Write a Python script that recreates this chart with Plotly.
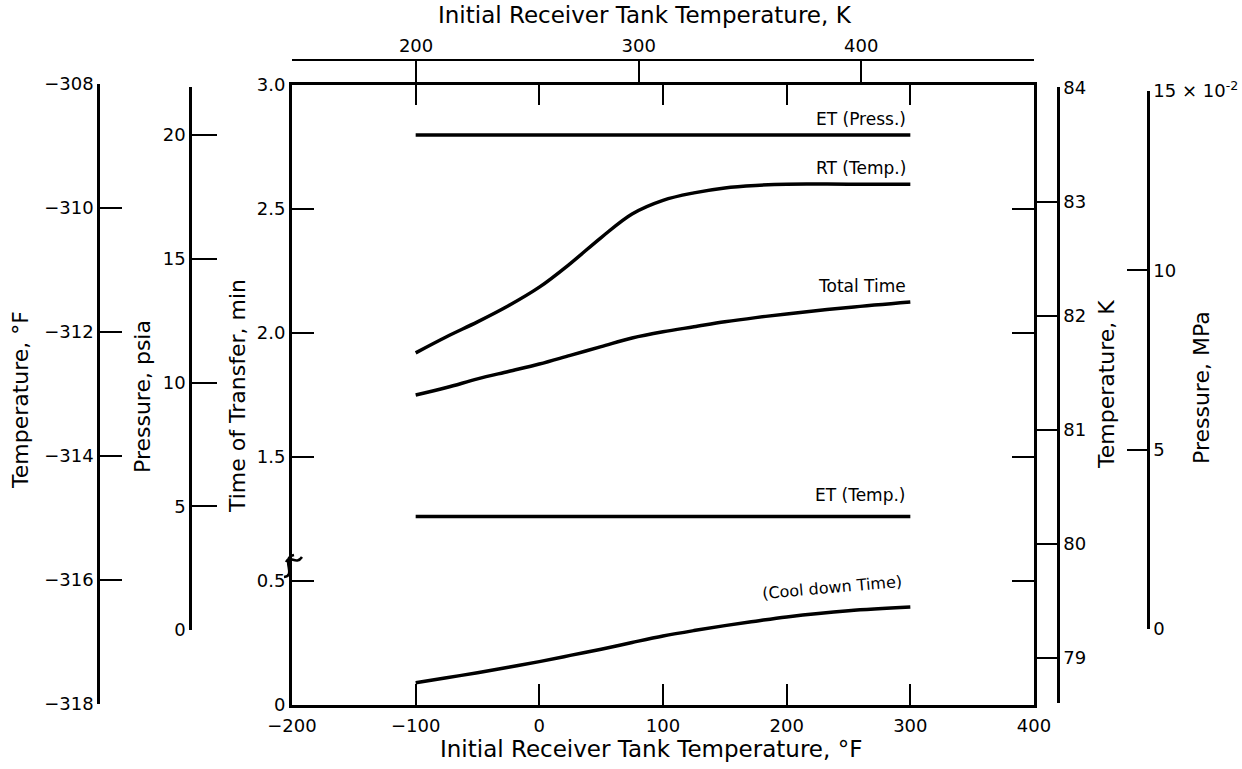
import plotly.graph_objects as go

# ---------------- data ----------------
temp_f = [-100, -75, -50, -25, 0, 25, 50, 75, 100, 125, 150, 175, 200, 250, 300]
rt_temp = [1.92, 1.985, 2.045, 2.11, 2.185, 2.28, 2.385, 2.48, 2.535, 2.565, 2.585, 2.595, 2.60, 2.60, 2.60]
total_time = [1.75, 1.78, 1.815, 1.845, 1.875, 1.91, 1.945, 1.98, 2.005, 2.025, 2.045, 2.062, 2.077, 2.103, 2.125]
cool_down = [0.09, 0.11, 0.13, 0.152, 0.175, 0.20, 0.225, 0.252, 0.278, 0.30, 0.32, 0.338, 0.355, 0.38, 0.395]
flat_x = [-100, 300]
et_temp = [1.26, 1.26]          # min
et_press = [20, 20]             # psia

x_ticks_f = [-200, -100, 0, 100, 200, 300, 400]
x_ticks_k = [200, 300, 400]
y_low_ticks = [0, 0.5]
y_up_ticks = [1.5, 2.0, 2.5, 3.0]
temp_f_ticks = [-318, -316, -314, -312, -310, -308]
psia_ticks = [0, 5, 10, 15, 20]
temp_k_ticks = [79, 80, 81, 82, 83, 84]
mpa_ticks = [0, 0.05, 0.10, 0.15]
mpa_labels = ["0", "5", "10", "15 × 10<sup>-2</sup>"]

# ---------------- layout helpers ----------------
W, H = 1242, 769
def px(x): return x / W
def py(y): return 1 - y / H

def f2k(f): return (f + 459.67) * 5.0 / 9.0

FONT = "DejaVu Sans, Liberation Sans, Arial, sans-serif"
TICKF = dict(family=FONT, size=18, color="black")

main_x = [px(292), px(1034)]
main_bot, main_top = 705, 85
brk_px = main_bot - (main_bot - main_top) * 0.6 / 2.5
low_dom = [py(main_bot), py(brk_px)]
up_dom = [py(brk_px), py(main_top)]

common = dict(showgrid=False, zeroline=False, showline=True, linecolor="black", automargin=False,
              ticks="inside", tickcolor="black", tickwidth=2, tickfont=TICKF)

fig = go.Figure()
LW = 3.5
fig.add_trace(go.Scatter(x=temp_f, y=rt_temp, mode="lines", line=dict(color="black", width=LW, shape="spline"),
                         xaxis="x", yaxis="y2", showlegend=False))
fig.add_trace(go.Scatter(x=temp_f, y=total_time, mode="lines", line=dict(color="black", width=LW, shape="spline"),
                         xaxis="x", yaxis="y2", showlegend=False))
fig.add_trace(go.Scatter(x=flat_x, y=et_temp, mode="lines", line=dict(color="black", width=LW),
                         xaxis="x", yaxis="y2", showlegend=False))
fig.add_trace(go.Scatter(x=temp_f, y=cool_down, mode="lines", line=dict(color="black", width=LW, shape="spline"),
                         xaxis="x", yaxis="y", showlegend=False))
fig.add_trace(go.Scatter(x=flat_x, y=et_press, mode="lines", line=dict(color="black", width=LW),
                         xaxis="x", yaxis="y4", showlegend=False))
# dummy traces so every auxiliary axis is drawn
for xa, ya in [("x", "y3"), ("x", "y5"), ("x", "y6"), ("x2", "y2"), ("x3", "y2")]:
    fig.add_trace(go.Scatter(x=[None], y=[None], xaxis=xa, yaxis=ya, showlegend=False, hoverinfo="skip"))

fig.update_layout(
    width=W, height=H, autosize=False, margin=dict(l=0, r=0, t=0, b=0, pad=0),
    paper_bgcolor="white", plot_bgcolor="rgba(0,0,0,0)", showlegend=False,
    font=dict(family=FONT, color="black"),
    xaxis=dict(domain=main_x, range=[-200, 400], anchor="y", tickvals=x_ticks_f, ticklen=21,
               linewidth=3, ticklabelstandoff=2, **common),
    xaxis2=dict(domain=main_x, range=[-200, 400], anchor="y2", side="top", tickvals=x_ticks_f[1:-1],
                ticklen=20, linewidth=3, showticklabels=False, **common),
    xaxis3=dict(domain=main_x, range=[f2k(-200), f2k(400)], anchor="free", position=py(60), side="top",
                tickvals=x_ticks_k, ticklen=22, linewidth=2, **common),
    yaxis=dict(domain=low_dom, range=[0, 0.6], anchor="x", tickvals=y_low_ticks, ticktext=["0", "0.5"],
               ticklen=22, linewidth=3, mirror="ticks", **common),
    yaxis2=dict(domain=up_dom, range=[1.1, 3.0], anchor="x", tickvals=y_up_ticks,
                ticktext=["1.5", "2.0", "2.5", "3.0"], ticklen=22, linewidth=3, mirror="ticks", **common),
    yaxis3=dict(domain=[py(704), py(84)], range=[-318, -308], anchor="free", position=px(98), side="left",
                tickvals=temp_f_ticks, ticklen=22, linewidth=2.5, **common),
    yaxis4=dict(domain=[py(630), py(87)], range=[0, (630 - 87) / 24.75], anchor="free", position=px(190),
                side="left", tickvals=psia_ticks, ticklen=25, linewidth=2.5, **common),
    yaxis5=dict(domain=[py(703), py(87)], range=[84 - (703 - 88) / 113.9, 84 + 1 / 113.9], anchor="free",
                position=px(1058), side="right", tickvals=temp_k_ticks, ticklen=20, linewidth=2.5, **common),
    yaxis6=dict(domain=[py(629), py(91)], range=[0, 0.15], anchor="free", position=px(1148), side="right",
                tickvals=mpa_ticks, ticktext=mpa_labels, ticklen=20, linewidth=2.5, **common),
)

ann = []
def title(text, x, y, angle=0, size=22):
    ann.append(dict(text=text, x=px(x), y=py(y), xref="paper", yref="paper", showarrow=False,
                    textangle=angle, font=dict(family=FONT, size=size, color="black"),
                    xanchor="center", yanchor="middle"))

title("Initial Receiver Tank Temperature, K", 645, 15, 0, 23)
title("Initial Receiver Tank Temperature, °F", 651, 749, 0, 23)
title("Temperature, °F", 20, 400, -90)
title("Pressure, psia", 142, 397, -90)
title("Time of Transfer, min", 237, 396, -90)
title("Temperature, K", 1106, 385, -90)
title("Pressure, MPa", 1201, 388, -90)

def curve_label(text, xv, yv, yref, shift, angle=0, size=17, xshift=-2):
    ann.append(dict(text=text, x=xv, y=yv, xref="x", yref=yref, showarrow=False, textangle=angle,
                    xanchor="right", yanchor="bottom", yshift=shift, xshift=xshift,
                    font=dict(family=FONT, size=size, color="black")))

curve_label("ET (Press.)", flat_x[-1], et_press[-1], "y4", 4)
curve_label("RT (Temp.)", temp_f[-1], rt_temp[-1], "y2", 4)
curve_label("Total Time", temp_f[-1], total_time[-1], "y2", 4)
curve_label("ET (Temp.)", flat_x[-1], et_temp[-1], "y2", 10)
curve_label("(Cool down Time)", temp_f[-1], cool_down[-1], "y", 2, -5, 16, -6)
fig.update_layout(annotations=ann)

# axis break mark on the time axis (decoration drawn in pixel space)
def pth(points):
    (x0, y0), (x1, y1), (x2, y2), (x3, y3) = points
    return (f"M {px(x0)},{py(y0)} C {px(x1)},{py(y1)} {px(x2)},{py(y2)} {px(x3)},{py(y3)}")

fig.add_shape(type="path", xref="paper", yref="paper",
              path=pth([(284, 577), (297, 576), (280, 558), (294, 555)]),
              line=dict(color="black", width=2.5))
fig.add_shape(type="path", xref="paper", yref="paper",
              path=pth([(286, 562), (290, 554), (296, 566), (302, 557)]),
              line=dict(color="black", width=2.5))

fig.write_html("out.html")
